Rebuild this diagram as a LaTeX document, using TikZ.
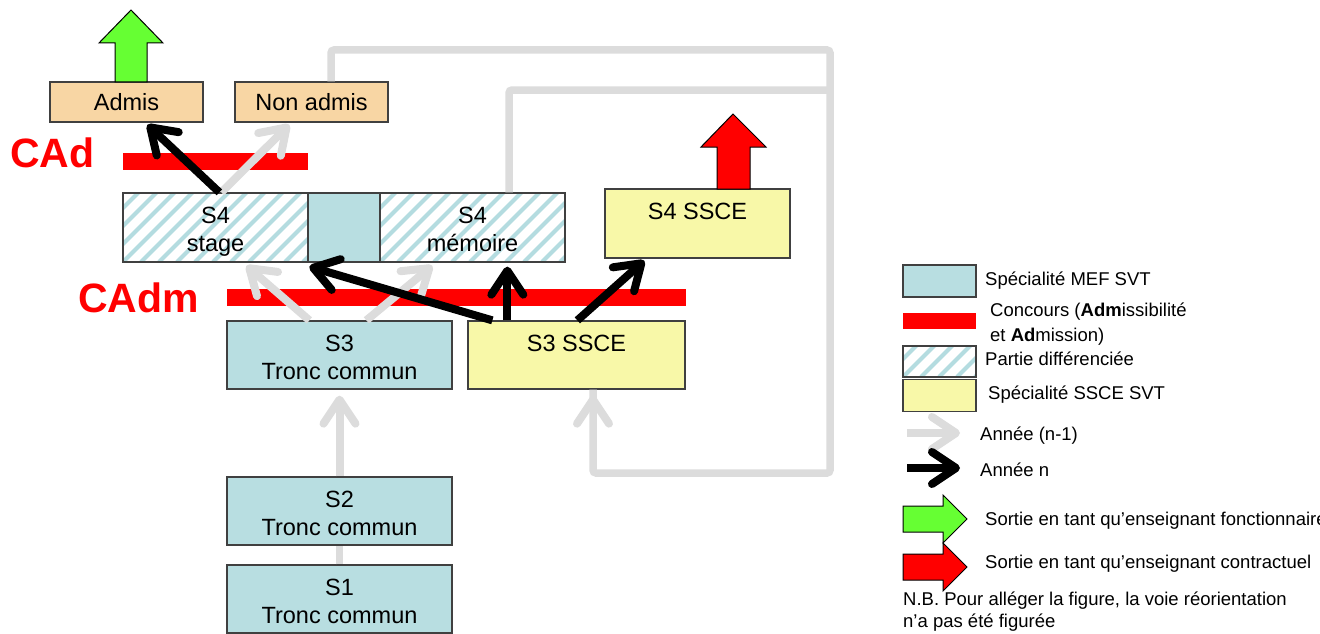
\documentclass[tikz,border=0pt]{standalone}
\usepackage{fontspec}
\setmainfont{Liberation Sans}
\usetikzlibrary{arrows.meta,calc}
\definecolor{boxblue}{RGB}{184,222,225}
\definecolor{hatchc}{RGB}{180,220,224}
\definecolor{wheatc}{RGB}{248,214,164}
\definecolor{sscec}{RGB}{248,248,168}
\definecolor{lgray}{RGB}{220,220,220}
\definecolor{greenA}{RGB}{102,255,51}
\definecolor{redA}{RGB}{255,0,0}
\definecolor{bord}{RGB}{64,64,64}
\newcommand{\twol}[2]{\rule{0pt}{25pt}#1\\#2\vphantom{g}}
\begin{document}
\begin{tikzpicture}[x=1pt,y=-1pt,
  box/.style={draw=bord, line width=1.3pt, inner sep=0pt, align=center,
    font=\fontsize{23.5}{28}\selectfont},
  mef/.style={box, fill=boxblue},
  ssce/.style={box, fill=sscec},
  res/.style={box, fill=wheatc},
  hatched/.style={box, fill=white, path picture={
      \foreach \k in {-22,...,22}
        \draw[hatchc, line width=4pt]
          ([xshift=\k*18pt]path picture bounding box.south west) -- ++(140pt,140pt);}},
  redbar/.style={fill=redA, draw=none, inner sep=0pt},
  cadlabel/.style={anchor=west, inner sep=0pt, text=redA,
    font=\fontsize{41}{48}\selectfont\bfseries},
  legtext/.style={anchor=west, inner sep=0pt, text height=0.716em, text depth=0pt,
    font=\fontsize{18.5}{24}\selectfont},
  garrow/.style={lgray, line width=8pt, -{Straight Barb[length=24pt,width=32pt,round]}},
  karrow/.style={black, line width=8pt, -{Straight Barb[length=24pt,width=32pt,round]}},
  gline/.style={lgray, line width=7.5pt, rounded corners=3pt},
  blockarrow/.style={draw=black, line width=1pt, line join=miter}
]
\path[use as bounding box] (0,0) rectangle (1320,634);
\clip (0,0) rectangle (1320,634);

% red bars (concours)
\node[redbar, minimum width=185pt, minimum height=17pt] (cadbar) at (215.5,161.5) {};
\node[redbar, minimum width=459pt, minimum height=17pt] (cadmbar) at (456.5,297.5) {};
\node[cadlabel] (cad) at (10,153) {CAd};
\node[cadlabel] (cadm) at (78,298) {CAdm};

% boxes
\node[res, minimum width=153pt, minimum height=40pt] (admis) at (126.5,102) {Admis};
\node[res, minimum width=153pt, minimum height=40pt] (nonadmis) at (311.5,102) {Non admis};
\node[hatched, minimum width=185pt, minimum height=69pt] (stage) at (215.5,227.5) {\twol{S4}{stage}};
\node[mef, minimum width=72pt, minimum height=69pt] (mid) at (344,227.5) {};
\node[hatched, minimum width=185pt, minimum height=69pt] (memoire) at (472.5,227.5) {\twol{S4}{mémoire}};
\node[ssce, minimum width=185pt, minimum height=69pt] (sscefour) at (697.5,223.5) {\twol{S4 SSCE}{\phantom{X}}};
\node[mef, minimum width=225pt, minimum height=68pt] (sthree) at (339.5,355) {\twol{S3}{Tronc commun}};
\node[ssce, minimum width=217pt, minimum height=68pt] (sscethree) at (576.5,355) {\twol{S3 SSCE}{\phantom{X}}};
\node[mef, minimum width=225pt, minimum height=68pt] (stwo) at (339.5,511) {\twol{S2}{Tronc commun}};
\node[mef, minimum width=225pt, minimum height=68pt] (sone) at (339.5,599) {\twol{S1}{Tronc commun}};

% exit block arrows
\draw[blockarrow, fill=greenA] (115,82) -- (115,43) -- (99,43) -- (131,10) -- (163,43) -- (147,43) -- (147,82) -- cycle;
\draw[blockarrow, fill=redA] (717,189) -- (717,147) -- (701,147) -- (733,114) -- (766,147) -- (750,147) -- (750,189) -- cycle;

% grey loops (year n-1)
\coordinate (topR) at (830,50);
\coordinate (midR) at (830,90);
\coordinate (botR) at (830,473);
\draw[gline] ($(nonadmis.north)+(19.5,0)$) |- (topR) -- (botR) -| ($(sscethree.south)+(16.5,0)$);
\draw[gline] ($(memoire.north)+(36.5,0)$) |- (midR);
\draw[garrow] ($(sscethree.south)+(16.5,20)$) -- ($(sscethree.south)+(16.5,6)$);

% grey arrows
\draw[gline] (sone.north) -- (stwo.south);
\draw[garrow] (stwo.north) -- ($(sthree.south)+(0,6)$);
\draw[garrow] ($(sthree.north west)+(83,0)$) -- ($(stage.south west)+(124,3)$);
\draw[garrow] ($(sthree.north west)+(140,0)$) -- ($(memoire.south west)+(53,3)$);
\draw[garrow] ($(stage.north west)+(99,0)$) -- ($(nonadmis.south west)+(55,2)$);

% black arrows
\draw[karrow] ($(stage.north west)+(97,0)$) -- ($(admis.south west)+(98,2)$);
\draw[karrow] ($(sscethree.north west)+(25,0)$) -- ($(mid.south west)+(2,4)$);
\draw[karrow] ($(sscethree.north west)+(40,0)$) -- ($(memoire.south west)+(128,4)$);
\draw[karrow] ($(sscethree.north west)+(110,0)$) -- ($(sscefour.south west)+(40,2)$);

% legend
\node[mef, minimum width=73pt, minimum height=32pt] (lgmef) at (939.5,281) {};
\node[legtext] (tmef) at (985,282) {Spécialité MEF SVT};
\node[redbar, minimum width=73pt, minimum height=16pt] (lgbar) at (939.5,321) {};
\node[legtext] (tconc) at (990,313) {Concours (\textbf{Adm}issibilité};
\node[legtext] (tconcb) at (990,338) {et \textbf{Ad}mission)};
\node[hatched, minimum width=73pt, minimum height=31pt] (lghatch) at (939.5,361.5) {};
\node[legtext] (thatch) at (985,362) {Partie différenciée};
\node[ssce, minimum width=73pt, minimum height=32pt] (lgssce) at (939.5,395.5) {};
\node[legtext] (tssce) at (988,396) {Spécialité SSCE SVT};
\coordinate (lga) at (907,433);
\coordinate (lgb) at (960,433);
\coordinate (lgc) at (907,468);
\coordinate (lgd) at (960,468);
\draw[garrow] (lga) -- (lgb);
\node[legtext] (tprev) at (980,437) {Année (n-1)};
\draw[karrow] (lgc) -- (lgd);
\node[legtext] (tcur) at (980,473) {Année n};
\draw[blockarrow, fill=greenA] (903,506) -- (943,506) -- (943,495) -- (967,519) -- (943,543) -- (943,532) -- (903,532) -- cycle;
\node[legtext] (tfonc) at (985,522) {Sortie en tant qu’enseignant fonctionnaire};
\draw[blockarrow, fill=redA] (903,554) -- (943,554) -- (943,543) -- (967,567) -- (943,591) -- (943,580) -- (903,580) -- cycle;
\node[legtext] (tcontr) at (985,565) {Sortie en tant qu’enseignant contractuel};
\node[legtext] (tnb) at (903,602) {N.B. Pour alléger la figure, la voie réorientation};
\node[legtext] (tnbb) at (903,624) {n’a pas été figurée};
\end{tikzpicture}
\end{document}
